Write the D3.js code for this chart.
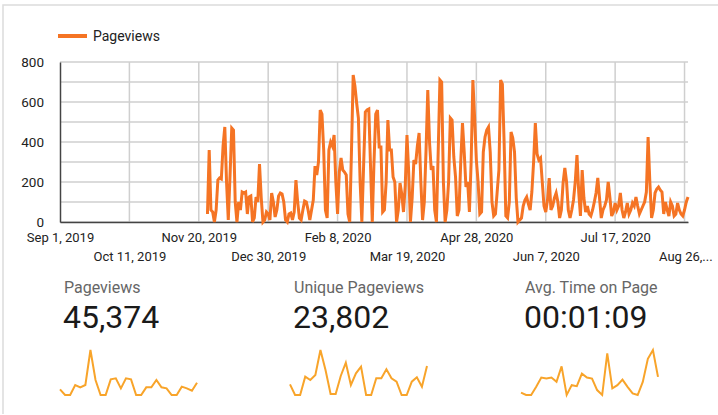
<!DOCTYPE html>
<html>
<head>
<meta charset="utf-8">
<script src="https://cdn.jsdelivr.net/npm/d3@7"></script>
<style>
  body { margin: 0; background: #fff; }
  svg { display: block; font-family: Roboto, "Noto Sans", sans-serif; }
</style>
</head>
<body>
<svg width="718" height="415"></svg>
<script>

// daily pageviews, starting Nov 25, 2019 (no data before that)
var firstDay = new Date(2019, 10, 25);
var pageviews = [
  40, 360, 60, 50, 0, 60, 210, 220, 215, 380, 475, 200, 10, 230, 470, 460, 100, 0, 100, 60,
  150, 145, 150, 40, 125, 130, 0, 20, 125, 100, 290, 120, 0, 10, 50, 40, 10, 145, 100, 25,
  60, 130, 145, 140, 100, 10, 0, 40, 45, 10, 50, 210, 100, 20, 10, 60, 105, 100, 60, 10,
  60, 110, 280, 235, 300, 560, 540, 360, 60, 20, 360, 400, 380, 435, 200, 40, 250, 320, 260, 250,
  235, 40, 0, 350, 735, 680, 595, 520, 200, 0, 280, 550, 560, 565, 280, 0, 300, 540, 560, 375,
  375, 50, 60, 200, 510, 360, 360, 225, 200, 0, 60, 195, 140, 50, 180, 435, 250, 0, 120, 310,
  290, 380, 445, 200, 10, 100, 360, 660, 400, 260, 280, 60, 0, 350, 710, 700, 200, 0, 60, 200,
  520, 510, 325, 225, 30, 60, 300, 495, 350, 175, 200, 50, 300, 710, 520, 310, 200, 40, 50, 350,
  425, 460, 475, 350, 100, 30, 40, 150, 260, 710, 690, 400, 30, 20, 100, 450, 420, 350, 120, 0,
  10, 20, 80, 110, 125, 90, 60, 150, 300, 495, 340, 310, 320, 200, 80, 50, 110, 220, 60, 80,
  120, 145, 100, 20, 60, 195, 270, 200, 60, 20, 60, 110, 200, 335, 150, 30, 260, 120, 50, 80,
  40, 30, 60, 100, 145, 220, 120, 20, 60, 80, 110, 200, 120, 30, 50, 95, 60, 80, 145, 60,
  20, 50, 95, 40, 60, 95, 80, 125, 80, 40, 60, 80, 100, 150, 425, 200, 20, 60, 145, 165,
  175, 160, 150, 40, 100, 60, 30, 100, 80, 30, 40, 95, 60, 40, 30, 60, 100, 125
];

var axisStart = new Date(2019, 8, 1);
var axisEnd = new Date(2020, 7, 28);
var tickLabels = ["Sep 1, 2019", "Oct 11, 2019", "Nov 20, 2019", "Dec 30, 2019", "Feb 8, 2020",
                  "Mar 19, 2020", "Apr 28, 2020", "Jun 7, 2020", "Jul 17, 2020", "Aug 26,..."];
var yTicks = [0, 200, 400, 600, 800];
var yGrid = [0, 100, 200, 300, 400, 500, 600, 700, 800];

var cardLabels = ["Pageviews", "Unique Pageviews", "Avg. Time on Page"];
var cardValues = ["45,374", "23,802", "00:01:09"];
var sparkPageviews = [17, 0, 0, 30, 23, 30, 135, 45, 0, 0, 47, 50, 20, 50, 47, 0, 0, 23, 23, 45, 23, 20, 0, 0, 25, 20, 13, 37];
var sparkUnique = [32, 0, 0, 55, 45, 60, 135, 75, 3, 3, 57, 97, 30, 65, 85, 0, 0, 50, 50, 77, 50, 40, 0, 0, 40, 53, 25, 87];
var sparkTime = [7, 0, 0, 25, 53, 50, 53, 40, 87, 0, 30, 27, 65, 53, 50, 15, 0, 127, 20, 30, 47, 25, 5, 0, 40, 110, 137, 55];

var svg = d3.select('svg');

// card outline (top + left edges visible)
svg.append('path')
  .attr('d', 'M3,414 V5 H718')
  .attr('fill', 'none')
  .attr('stroke', '#dcdcdc')
  .attr('stroke-width', 1.5);

var x = d3.scaleTime().domain([axisStart, axisEnd]).range([60, 688]);
var y = d3.scaleLinear().domain([0, 800]).range([222, 62]);

var tickDates = tickLabels.map(function (d, i) { return d3.timeDay.offset(axisStart, 40 * i); });

var series = pageviews.map(function (v, i) {
  return { date: d3.timeDay.offset(firstDay, i), value: v };
});

// gridlines
svg.append('g').selectAll('line')
  .data(yGrid)
  .join('line')
  .attr('x1', 60).attr('x2', 688)
  .attr('y1', function (d) { return y(d); })
  .attr('y2', function (d) { return y(d); })
  .attr('stroke', '#cfcfcf')
  .attr('stroke-width', 1.5);

svg.append('g').selectAll('line')
  .data(tickDates.slice(1))
  .join('line')
  .attr('x1', function (d) { return x(d); })
  .attr('x2', function (d) { return x(d); })
  .attr('y1', 62).attr('y2', 222)
  .attr('stroke', '#cfcfcf')
  .attr('stroke-width', 1.5);

// axes
var yAxis = svg.append('g')
  .attr('transform', 'translate(60,0)')
  .call(d3.axisLeft(y).tickValues(yTicks).tickSize(0).tickPadding(16));
yAxis.select('.domain').attr('stroke', '#444').attr('stroke-width', 1.5);
yAxis.selectAll('text').attr('font-size', 13.5).attr('fill', '#222').attr('font-family', 'Roboto');

var xAxis = svg.append('g')
  .attr('transform', 'translate(0,222)')
  .call(d3.axisBottom(x).tickValues(tickDates).tickSize(0)
    .tickFormat(function (d, i) { return tickLabels[i]; }));
xAxis.select('.domain').attr('stroke', '#444').attr('stroke-width', 1.5);
xAxis.selectAll('text')
  .attr('font-size', 13)
  .attr('fill', '#222')
  .attr('font-family', 'Roboto')
  .attr('dy', null)
  .attr('y', function (d, i) { return i % 2 == 0 ? 20 : 39; });
xAxis.selectAll('.tick').filter(function (d, i) { return i == tickLabels.length - 1; })
  .select('text').attr('text-anchor', 'start').attr('x', -26);

// pageviews line
var line = d3.line()
  .x(function (d) { return x(d.date); })
  .y(function (d) { return y(d.value); });

svg.append('path')
  .datum(series)
  .attr('fill', 'none')
  .attr('stroke', '#f57424')
  .attr('stroke-width', 3)
  .attr('d', line);

// legend
svg.append('line')
  .attr('x1', 58).attr('x2', 87)
  .attr('y1', 36).attr('y2', 36)
  .attr('stroke', '#f57424')
  .attr('stroke-width', 4);
svg.append('text')
  .attr('x', 93).attr('y', 41)
  .attr('font-size', 14)
  .attr('fill', '#222')
  .text('Pageviews');

// scorecards
var cardX = [64, 294, 525];
var sparks = [sparkPageviews, sparkUnique, sparkTime];

cardLabels.forEach(function (label, i) {
  svg.append('text')
    .attr('x', cardX[i]).attr('y', 293)
    .attr('font-size', 16)
    .attr('fill', '#666')
    .text(label);

  svg.append('text')
    .attr('x', cardX[i] - 1).attr('y', 328)
    .attr('font-size', 32)
    .attr('fill', '#1a1a1a')
    .text(cardValues[i]);

  var vals = sparks[i];
  var sx = d3.scaleLinear().domain([0, vals.length - 1]).range([cardX[i] - 4, cardX[i] + 133]);
  var sy = d3.scaleLinear().domain([0, d3.max(vals)]).range([395, 350]);

  svg.append('path')
    .datum(vals)
    .attr('fill', 'none')
    .attr('stroke', '#f8a42a')
    .attr('stroke-width', 2)
    .attr('d', d3.line()
      .x(function (d, j) { return sx(j); })
      .y(function (d) { return sy(d); }));
});

</script>
</body>
</html>
